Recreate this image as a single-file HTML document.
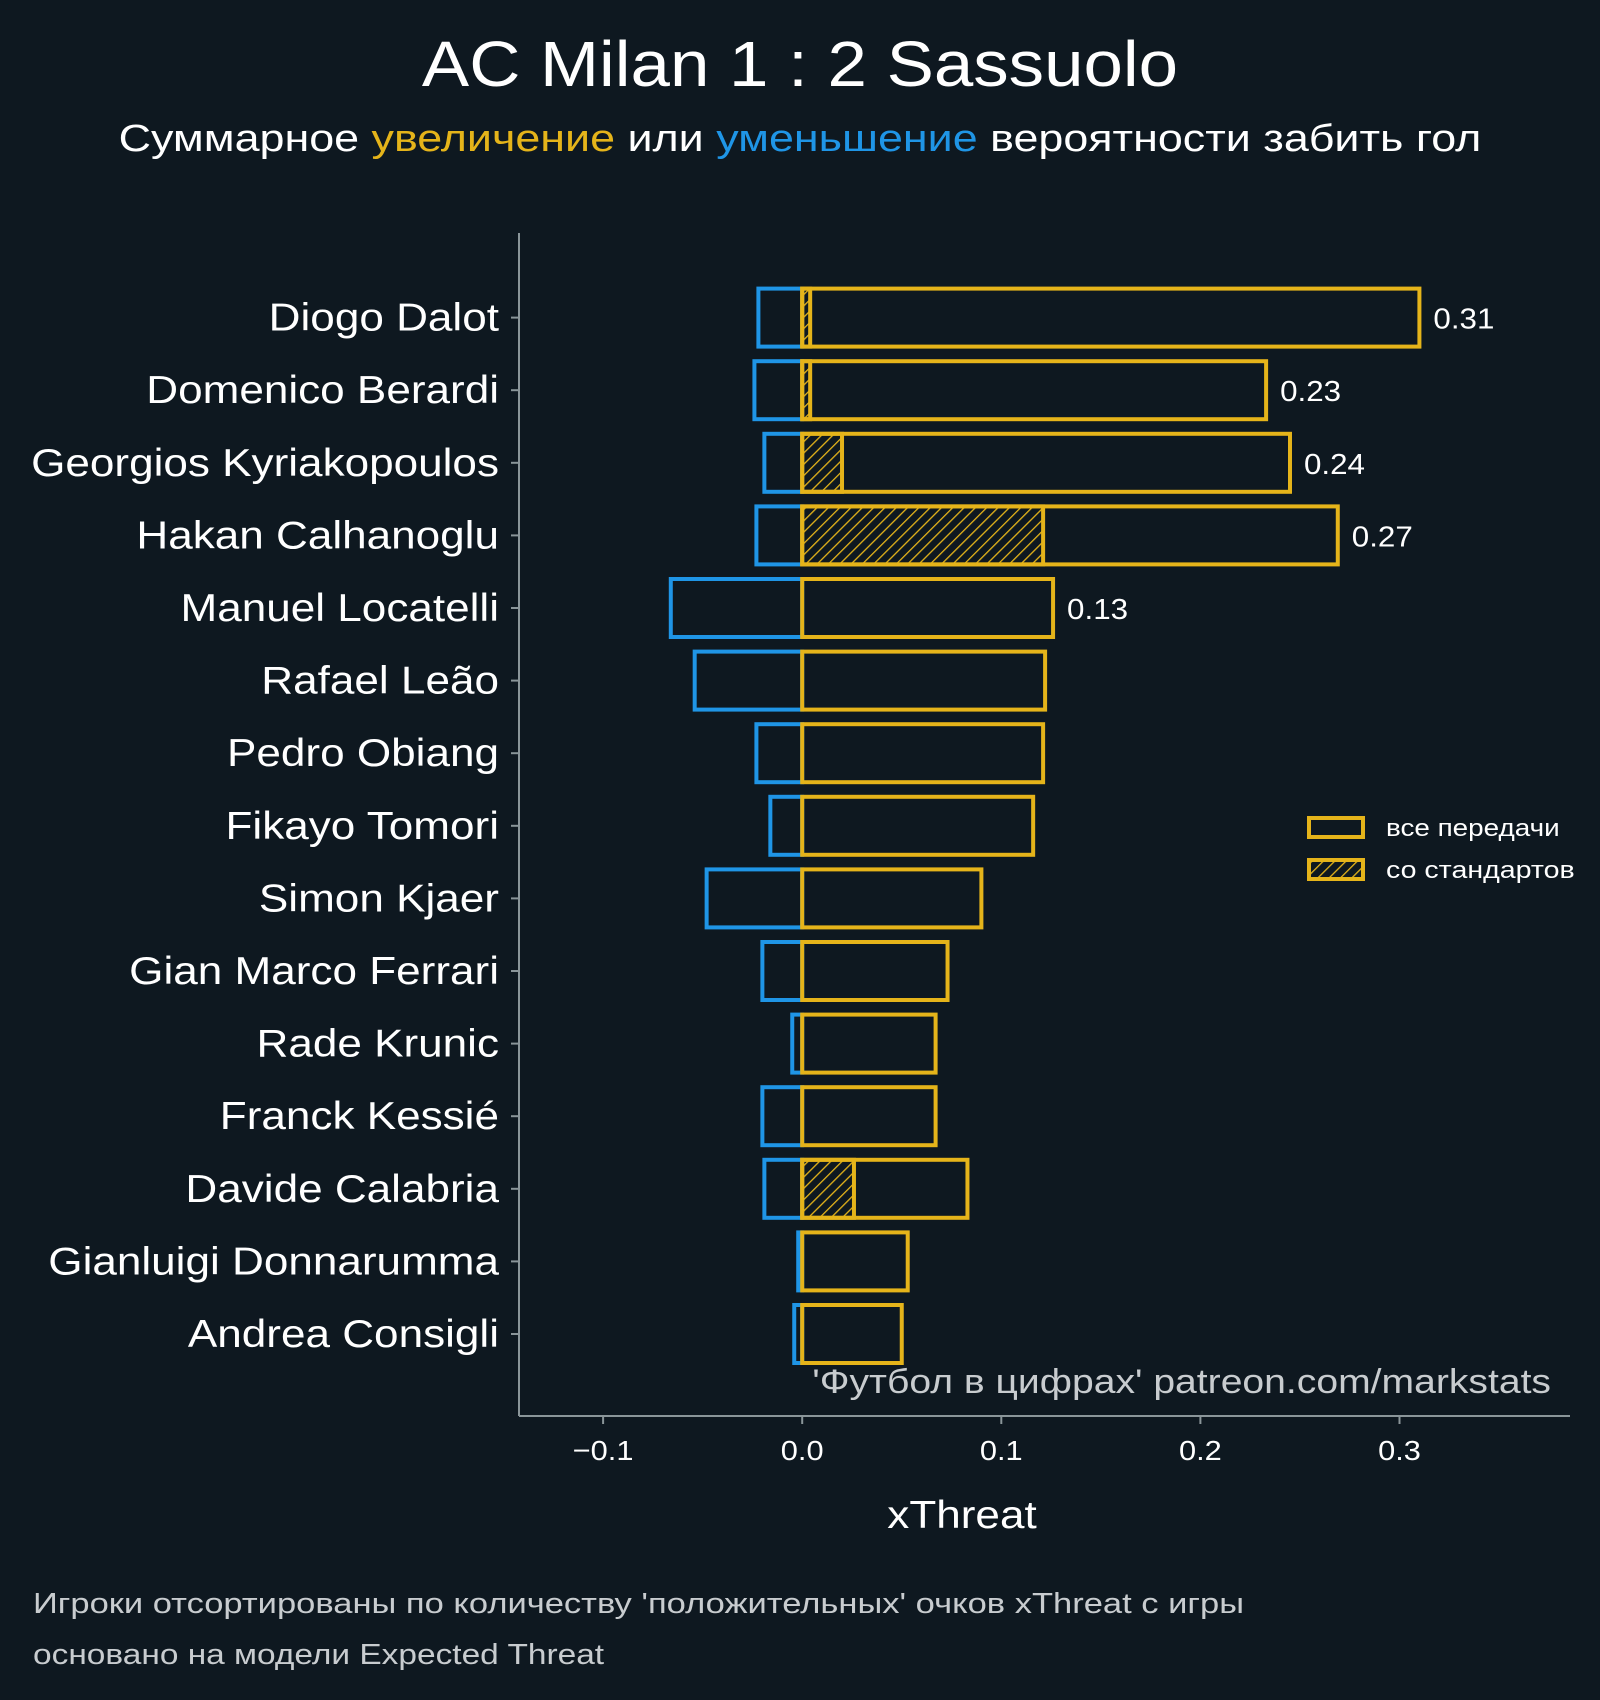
<!DOCTYPE html>
<html><head><meta charset="utf-8"><style>
html,body{margin:0;padding:0;background:#0e1820;}
svg{display:block;font-family:"Liberation Sans","DejaVu Sans",sans-serif;}
</style></head><body>
<svg id="chart" width="1600" height="1700" viewBox="0 0 1600 1700" xmlns="http://www.w3.org/2000/svg">
<defs>
<pattern id="hatch" patternUnits="userSpaceOnUse" width="8" height="8" patternTransform="rotate(45)">
<line x1="0" y1="0" x2="0" y2="8" stroke="#e5b41a" stroke-width="2.6"/>
</pattern>
</defs>
<rect width="1600" height="1700" fill="#0e1820"/>
<text class="st" data-f="1.107" x="800" y="86" text-anchor="middle" font-size="64" fill="#ffffff">AC Milan 1 : 2 Sassuolo</text>
<text class="st" data-f="1.18" x="800" y="151" text-anchor="middle" font-size="38" fill="#ffffff">Суммарное <tspan fill="#e5b41a">увеличение</tspan> или <tspan fill="#1f95e6">уменьшение</tspan> вероятности забить гол</text>
<g id="plot"></g>
<line x1="519" y1="233" x2="519" y2="1416" stroke="#8a9599" stroke-width="2"/>
<line x1="519" y1="1416" x2="1570" y2="1416" stroke="#8a9599" stroke-width="2"/>
<text class="st" data-f="1.13" x="962" y="1528" text-anchor="middle" font-size="39" fill="#ffffff">xThreat</text>
<text class="st" data-f="1.15" x="1551" y="1393" text-anchor="end" font-size="34" fill="#c8cccf">'Футбол в цифрах' patreon.com/markstats</text>
<g>
<rect x="1309" y="818" width="54" height="19" fill="none" stroke="#e5b41a" stroke-width="4"/>
<text class="st" data-f="1.16" x="1386" y="836" font-size="24" fill="#ffffff">все передачи</text>
<rect x="1309" y="860" width="54" height="19" fill="url(#hatch)" stroke="#e5b41a" stroke-width="4"/>
<text class="st" data-f="1.19" x="1386" y="878" font-size="24" fill="#ffffff">со стандартов</text>
</g>
<text class="st" data-f="1.19" x="33" y="1613" font-size="29" fill="#c8cccf">Игроки отсортированы по количеству 'положительных' очков xThreat с игры</text>
<text class="st" data-f="1.153" x="33" y="1664" font-size="29" fill="#c8cccf">основано на модели Expected Threat</text>
</svg>
<script>
const players = ["Diogo Dalot","Domenico Berardi","Georgios Kyriakopoulos","Hakan Calhanoglu","Manuel Locatelli","Rafael Leão","Pedro Obiang","Fikayo Tomori","Simon Kjaer","Gian Marco Ferrari","Rade Krunic","Franck Kessié","Davide Calabria","Gianluigi Donnarumma","Andrea Consigli"];
const positive = [0.310,0.233,0.245,0.269,0.126,0.122,0.121,0.116,0.090,0.073,0.067,0.067,0.083,0.053,0.050];
const negative = [-0.022,-0.024,-0.019,-0.023,-0.066,-0.054,-0.023,-0.016,-0.048,-0.020,-0.005,-0.020,-0.019,-0.002,-0.004];
const setPieces = [0.004,0.004,0.020,0.121,0,0,0,0,0,0,0,0,0.026,0,0];
const valueLabels = ["0.31","0.23","0.24","0.27","0.13"];
const xTicks = [-0.1,0.0,0.1,0.2,0.3];
const xTickLabels = ["\u22120.1","0.0","0.1","0.2","0.3"];

const NS="http://www.w3.org/2000/svg";
const g=document.getElementById('plot');
const x=v=>802.2+v*1991;
const y=i=>317.6+i*72.6;
const bh=58;
function mk(tag,attrs){const e=document.createElementNS(NS,tag);for(const k in attrs)e.setAttribute(k,attrs[k]);g.appendChild(e);return e;}
function stretch(el,f){const w=el.getComputedTextLength();el.setAttribute('textLength',(w*f).toFixed(1));el.setAttribute('lengthAdjust','spacingAndGlyphs');}

xTicks.forEach((t,i)=>{
  const tk=mk('line',{x1:x(t),x2:x(t),y1:1416,y2:1424,stroke:'#8a9599','stroke-width':2});
  
  
  const tl=mk('text',{x:x(t),y:1460,'text-anchor':'middle','font-size':28,fill:'#ffffff'});
  tl.textContent=xTickLabels[i];
  
  
  stretch(tl,1.1);
});

players.forEach((p,i)=>{
  const cy=y(i);
  const tk=mk('line',{x1:511,x2:519,y1:cy,y2:cy,stroke:'#8a9599','stroke-width':2});
  
  
  const lbl=mk('text',{x:499,y:cy+13,'text-anchor':'end','font-size':39,fill:'#ffffff'});
  lbl.textContent=p;
  
  
  stretch(lbl,1.13);
  const nb=mk('rect',{x:x(negative[i]),y:cy-bh/2,width:x(0)-x(negative[i]),height:bh,fill:'none',stroke:'#1f95e6','stroke-width':4});
  
  
  if(setPieces[i]>0){
    const sb=mk('rect',{x:x(0),y:cy-bh/2,width:x(setPieces[i])-x(0),height:bh,fill:'url(#hatch)',stroke:'#e5b41a','stroke-width':4});
    
    
  }
  const pb=mk('rect',{x:x(0),y:cy-bh/2,width:x(positive[i])-x(0),height:bh,fill:'none',stroke:'#e5b41a','stroke-width':4});
  
  
  if(i<valueLabels.length){
    const vl=mk('text',{x:x(positive[i])+14,y:cy+11,'font-size':29,fill:'#ffffff'});
    vl.textContent=valueLabels[i];
    
    
    stretch(vl,1.08);
  }
});
document.querySelectorAll('text.st').forEach(el=>stretch(el,parseFloat(el.getAttribute('data-f'))));
</script>
</body></html>
